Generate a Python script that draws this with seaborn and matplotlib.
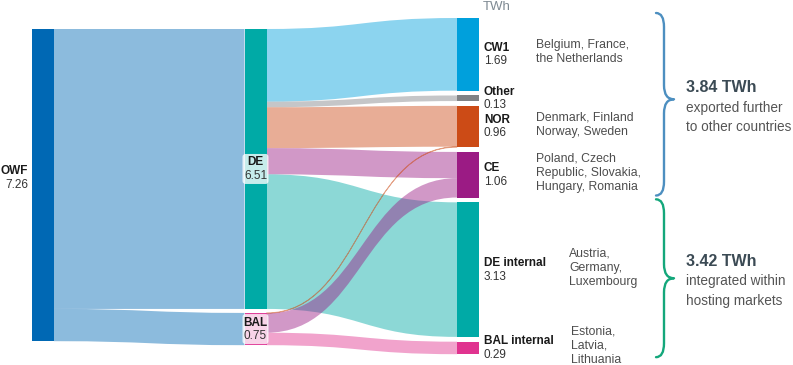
import matplotlib
matplotlib.use("Agg")
import matplotlib.pyplot as plt
from matplotlib.path import Path
from matplotlib.patches import PathPatch, Rectangle, FancyBboxPatch
import seaborn as sns

# --- datos (TWh) ---
nodos = ["OWF", "DE", "BAL", "CW1", "Other", "NOR", "CE", "DE internal", "BAL internal"]
valor_nodo = [7.26, 6.51, 0.75, 1.69, 0.13, 0.96, 1.06, 3.13, 0.29]
columna = [0, 1, 1, 2, 2, 2, 2, 2, 2]

origen = ["OWF", "OWF", "DE", "DE", "DE", "DE", "DE", "BAL", "BAL", "BAL"]
destino = ["DE", "BAL", "CW1", "Other", "NOR", "CE", "DE internal", "NOR", "CE", "BAL internal"]
flujo = [6.51, 0.75, 1.69, 0.13, 0.95, 0.61, 3.13, 0.01, 0.45, 0.29]

paises = ["Belgium, France,\nthe Netherlands", "", "Denmark, Finland\nNorway, Sweden",
          "Poland, Czech\nRepublic, Slovakia,\nHungary, Romania",
          "Austria,\nGermany,\nLuxembourg", "Estonia,\nLatvia,\nLithuania"]
exportado = ["CW1", "Other", "NOR", "CE"]
interno = ["DE internal", "BAL internal"]
texto_exportado = "exported further\nto other countries"
texto_interno = "integrated within\nhosting markets"

# --- estilo ---
colores = {"OWF": "#0068b4", "DE": "#00aaa6", "BAL": "#e0409a", "CW1": "#00a0dc",
           "Other": "#808285", "NOR": "#cc4b16", "CE": "#9b1b84",
           "DE internal": "#00aaa6", "BAL internal": "#e0338f"}
PX_X = 1 / 212.5   # unidades x por pixel
PX_Y = 1 / 43.0    # TWh por pixel
NODE_W = 22 * PX_X
col_top = {0: 0.0, 1: 0.0, 2: -11 * PX_Y}
col_gap = {0: 0.0, 1: 4 * PX_Y, 2: 4.8 * PX_Y}
pais_x_px = [536, 0, 536, 536, 569, 571]

sns.set_theme(style="white")
plt.rcParams["font.family"] = ["Liberation Sans", "DejaVu Sans"]

fig = plt.figure(figsize=(7.93, 3.65), dpi=100)
ax = fig.add_axes([0, 0, 1, 1])
ax.set_xlim(-32 * PX_X, 761 * PX_X)
ax.set_ylim(336 * PX_Y, -29 * PX_Y)
ax.axis("off")

# posiciones de nodos
pos = {}
cursor = dict(col_top)
for n, v, c in zip(nodos, valor_nodo, columna):
    pos[n] = (c, cursor[c], cursor[c] + v)
    cursor[c] += v + col_gap[c]

# flujos
def banda(x0, x1, a0, b0, a1, b1, color, lw):
    xm = (x0 + x1) / 2
    verts = [(x0, a0), (xm, a0), (xm, a1), (x1, a1),
             (x1, b1), (xm, b1), (xm, b0), (x0, b0), (x0, a0)]
    codes = [Path.MOVETO, Path.CURVE4, Path.CURVE4, Path.CURVE4,
             Path.LINETO, Path.CURVE4, Path.CURVE4, Path.CURVE4, Path.CLOSEPOLY]
    ax.add_patch(PathPatch(Path(verts, codes), facecolor=color, edgecolor=color,
                           lw=lw, alpha=0.45, zorder=1))

salida = {n: pos[n][1] for n in nodos}
entrada = {n: pos[n][1] for n in nodos}
for o, d, f in zip(origen, destino, flujo):
    c0 = pos[o][0]
    c1 = pos[d][0]
    col = colores[o] if c0 == 0 else colores[d]
    lw = 0.6 if f < 0.05 else 0
    banda(c0 + NODE_W, c1, salida[o], salida[o] + f, entrada[d], entrada[d] + f, col, lw)
    salida[o] += f
    entrada[d] += f

# nodos
for n in nodos:
    c, y0, y1 = pos[n]
    ax.add_patch(Rectangle((c, y0), NODE_W, y1 - y0, color=colores[n], lw=0, zorder=2))

tc = "#1a1a1a"
vc = "#333333"
fs = 8.5

# etiquetas
for n, v in zip(nodos, valor_nodo):
    c, y0, y1 = pos[n]
    ym = (y0 + y1) / 2
    if c == 0:
        ax.text(-4 * PX_X, ym - 14 * PX_Y, n, ha="right", va="center", fontsize=fs,
                fontweight="bold", color=tc)
        ax.text(-4 * PX_X, ym, f"{v:.2f}", ha="right", va="center",
                fontsize=fs, color=vc)
    elif c == 1:
        xc = c + NODE_W / 2
        ax.add_patch(FancyBboxPatch((xc - 13 * PX_X, ym - 15 * PX_Y), 26 * PX_X, 30 * PX_Y,
                                    boxstyle="round,pad=0,rounding_size=0.014",
                                    mutation_aspect=212.5 / 43, fc="white", ec="none",
                                    alpha=0.78, zorder=3))
        ax.text(xc, ym - 6.5 * PX_Y, n, ha="center", va="center", fontsize=fs,
                fontweight="bold", color=tc, zorder=4)
        ax.text(xc, ym + 7 * PX_Y, f"{v:.2f}", ha="center", va="center",
                fontsize=fs, color=vc, zorder=4)
    else:
        xl = c + NODE_W + 5 * PX_X
        ax.text(xl, ym - 6.5 * PX_Y, n, ha="left", va="center", fontsize=fs,
                fontweight="bold", color=tc)
        ax.text(xl, ym + 7 * PX_Y, f"{v:.2f}", ha="left", va="center",
                fontsize=fs, color=vc)

ax.text(2 + NODE_W + 4 * PX_X, -22 * PX_Y, "TWh", ha="left", va="center",
        fontsize=9.5, color="#7f8a93")

# paises
derecha = [n for n, c in zip(nodos, columna) if c == 2]
for n, p, xp in zip(derecha, paises, pais_x_px):
    if not p:
        continue
    _, y0, y1 = pos[n]
    ax.text((xp - 32) * PX_X, (y0 + y1) / 2 - 2 * PX_Y, p, ha="left", va="center",
            fontsize=8.8, color="#4d4d4d", linespacing=1.25)

# llaves
def llave(yt, yb, dy, color):
    xl = (656 - 32) * PX_X
    xm = (664 - 32) * PX_X
    xt = (674 - 32) * PX_X
    r = 14 * PX_Y
    ym = (yt + yb) / 2 + dy
    verts = [(xl, yt), (xm, yt), (xm, yt + r), (xm, ym - r), (xm, ym), (xt, ym),
             (xm, ym), (xm, ym + r), (xm, yb - r), (xm, yb), (xl, yb)]
    codes = [Path.MOVETO, Path.CURVE3, Path.CURVE3, Path.LINETO, Path.CURVE3, Path.CURVE3,
             Path.CURVE3, Path.CURVE3, Path.LINETO, Path.CURVE3, Path.CURVE3]
    ax.add_patch(PathPatch(Path(verts, codes), fc="none", ec=color, lw=1.7,
                           capstyle="round", joinstyle="round"))
    return (yt + yb) / 2

for grupo, texto, color, d0, d1, dy in [(exportado, texto_exportado, "#4d8fc0", -5, -2, -5 * PX_Y),
                                        (interno, texto_interno, "#14a77b", -3, 3, 0)]:
    yt = pos[grupo[0]][1] + d0 * PX_Y
    yb = pos[grupo[-1]][2] + d1 * PX_Y
    ym = llave(yt, yb, dy, color)
    total = sum(valor_nodo[nodos.index(n)] for n in grupo)
    xs = (686 - 32) * PX_X
    ax.text(xs, ym - 17 * PX_Y, f"{total:.2f} TWh", ha="left", va="center",
            fontsize=11.5, fontweight="bold", color="#3b4a54")
    ax.text(xs, ym + 13 * PX_Y, texto, ha="left", va="center", fontsize=9.8,
            color="#555555", linespacing=1.5)

fig.savefig("out.png", dpi=100)
